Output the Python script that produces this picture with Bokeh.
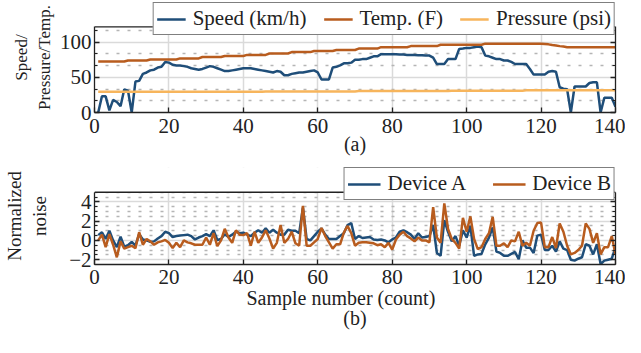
from bokeh.plotting import figure
from bokeh.layouts import column
from bokeh.models import (Legend, LegendItem, LinearAxis, Range1d, FixedTicker,
                          CustomJSTickFormatter, Title, BoxAnnotation, Span)
from bokeh.embed import file_html
from bokeh.resources import INLINE

FONT = "Liberation Serif"
FS = "21px"
TXT = "#222222"

samples = list(range(1, 141))

speed = [0, 23, 23, 3, 18, 15, 9, 33, 31, 0,
         44, 45, 55, 57, 60, 61, 64, 65, 72, 71,
         68, 67, 67, 66, 65, 63, 62, 61, 62, 64,
         66, 65, 63, 61, 59, 59, 60, 61, 62, 63,
         63, 63, 62, 61, 60, 59, 58, 57, 59, 58,
         53, 53, 55, 56, 57, 57, 58, 59, 60, 57,
         47, 47, 47, 64, 65, 67, 70, 70, 71, 75,
         75, 76, 76, 78, 80, 80, 83, 83, 83, 83,
         83, 82.5, 82.5, 82, 82, 82, 81.5, 81.5, 81, 81,
         78, 69, 69, 69, 76, 76, 76, 90.5, 91, 92,
         92, 93, 94, 93, 81, 80, 78, 76, 76, 74,
         74, 72, 69, 69, 69, 69, 62, 54, 54, 54,
         54, 58, 59, 58, 36, 34, 33, 0, 37, 37,
         37, 37, 42, 43, 43, 0, 21, 21, 21, 8]

temp = [72.5, 72.5, 72.5, 72.5, 72.5, 72.5, 72.5, 72.5, 74, 74,
        74, 74, 74, 74, 75.5, 75.5, 75.5, 75.5, 75.5, 75.5,
        75.5, 75.5, 77, 77, 77, 77, 77, 77, 79, 79,
        79, 79, 79, 79, 80.5, 80.5, 80.5, 80.5, 80.5, 80.5,
        82, 82, 82, 82, 82, 82, 84, 84, 84, 84,
        84, 84, 86, 86, 86, 86, 86, 86, 87.5, 87.5,
        87.5, 87.5, 87.5, 87.5, 89, 89, 89, 89, 89, 89,
        91, 91, 91, 91, 91, 91, 93, 93, 93, 93,
        93, 93, 93, 93, 94.5, 94.5, 94.5, 94.5, 94.5, 94.5,
        94.5, 94.5, 96.5, 96.5, 96.5, 96.5, 96.5, 96.5, 96.5, 96.5,
        96.5, 96.5, 96.5, 96.5, 98, 98, 98, 98, 98, 98,
        98, 98, 98, 98, 98, 98, 98, 98, 98, 98,
        97.5, 97, 96, 95.5, 94.5, 94, 93, 93, 93, 93,
        93, 93, 93, 93, 93, 93, 93, 93, 93, 93]

pressure = [29.5, 29.5, 29.5, 29.5, 29.5, 29.5, 29.5, 29.5, 29.5, 29.5,
            29.5, 29.5, 29.5, 29.5, 29.5, 29.5, 29.5, 29.5, 29.5, 29.5,
            29.5, 29.5, 29.5, 29.5, 29.5, 29.5, 29.5, 29.5, 29.5, 29.5,
            29.5, 29.5, 29.5, 29.5, 29.5, 29.5, 29.5, 29.5, 29.5, 29.5,
            29.5, 29.5, 29.5, 29.5, 29.5, 30, 30, 30, 30, 30,
            30, 30, 30, 30, 30, 30, 30, 30, 30, 30,
            30, 30, 30, 30, 30, 30, 30, 30, 30, 30,
            30.5, 30.5, 30.5, 30.5, 30.5, 30.5, 30.5, 30.5, 30.5, 30.5,
            30.5, 30.5, 30.5, 30.5, 30.5, 30.5, 30.5, 30.5, 30.5, 30.5,
            30.5, 30.5, 30.5, 30.5, 30.5, 31, 31, 31, 31, 31,
            31, 31, 31, 31, 31, 31, 31, 31, 31, 31,
            31, 31, 31, 31, 31, 31.5, 31.5, 31.5, 31.5, 31.5,
            31.5, 31.5, 31.5, 31.5, 31.5, 31.5, 31.5, 31.5, 31.5, 31.5,
            31.5, 31.5, 31.5, 31.5, 31.5, 31.5, 31.5, 31.5, 31.5, 31.5]

dev_a = [0.55, 0.85, 0.15, 1.0, 0.0, -0.7, 0.4, -0.65, -0.5, -0.15,
         -0.55, 0.65, 0.1, 0.0, -0.15, -0.1, 0.2, 0.45, 0.9, 0.75,
         0.35, 0.45, 0.5, 0.55, 0.6, 0.45, 0.1, 0.3, 0.45, 0.65,
         0.45, 1.05, 0.05, 0.15, 0.65, 0.35, 0.6, 0.9, 0.75, 0.8,
         0.6, 0.45, 0.8, 1.05, 0.8, 1.25, 0.8, 1.1, 0.8, 0.6,
         0.6, 1.1, 1.0, 1.0, 0.75, 3.4, 0.15, 0.0, 0.45, 0.9,
         1.25, 0.6, 0.15, 0.15, 0.15, 0.45, 0.75, 1.6, 1.8, 0.15,
         0.45, 0.25, 0.3, 0.35, 0.1, 0.05, 0.1, 0.0, -0.2, 0.1,
         0.3, 0.9, 1.05, 0.85, 0.6, 0.15, 0.75, 0.3, 0.35, 0.45,
         1.6, -1.3, -1.6, 2.1, 0.9, -0.1, 0.45, -0.55, 1.05, 0.3,
         1.5, -1.6, -1.45, -1.4, -0.4, 0.3, 1.35, -1.15, -1.3, -1.6,
         -1.6, -1.4, -1.2, -1.95, 0.0, -0.75, -0.75, -1.3, 0.5, 0.6,
         -1.0, -1.0, -0.55, -1.15, -0.1, -0.85, -1.0, -2.0, -2.1, -1.9,
         -1.75, -0.4, -0.55, -1.45, -0.4, -2.45, -2.1, -2.0, -1.9, -0.7]

dev_b = [0.0, 0.6, -0.7, 0.65, -0.45, -1.75, -0.1, -0.85, -0.7, -0.55,
         -0.8, 0.85, -0.45, 0.15, -0.1, -0.45, -0.2, -0.1, 0.05, -0.25,
         -0.8, -0.25, -0.7, 0.0, -0.2, -0.3, -0.45, -0.45, -0.45, 0.3,
         -0.45, 0.75, -0.6, 0.0, 1.2, 0.3, -0.25, 1.05, 0.6, 0.55,
         0.75, -0.55, 0.9, -0.25, 0.3, 1.05, 0.2, -0.85, -0.25, 1.6,
         -0.25, 0.15, 0.9, -0.3, -0.55, 3.6, -0.55, -0.55, -0.2, 0.15,
         1.3, 0.45, -0.2, -0.85, -0.4, -0.4, 0.8, 1.5, 0.75, -0.55,
         -0.25, -0.2, -0.2, -0.25, -0.3, -0.5, -0.4, -0.7, -0.25, -0.95,
         0.1, 0.6, 0.9, 0.45, 0.2, -0.1, 0.3, 0.0, 0.0, -0.2,
         3.45, 0.3, -0.25, 3.85, 1.2, 0.15, -0.25, -0.85, 2.35, 0.9,
         2.5, 0.15, -0.9, -0.7, 0.15, 0.75, 2.45, -0.55, -0.55, -0.3,
         -0.7, 0.0, -0.1, 0.9, -0.55, -0.25, -0.55, 1.0, 1.8, 1.85,
         -0.7, -0.7, 0.35, -0.8, 1.75, 0.9, -0.55, -1.45, -1.3, -1.0,
         -0.55, 1.75, 1.2, -0.25, 0.75, -1.45, -0.7, -0.7, 0.45, -1.5]

x_ticks = [0, 20, 40, 60, 80, 100, 120, 140]
top_y_ticks = [0, 50, 100]
top_y_minor = [16.67, 33.33, 66.67, 83.33, 116.67]
top_y_limits = (0, 122)
bot_y_ticks = [-2, 0, 2, 4]
bot_y_minor = [-2.5, -1.5, -1, -0.5, 0.5, 1, 1.5, 2.5, 3, 3.5, 4.5, 5]
bot_y_limits = (-2.5, 5)

BLUE = "#1f4e79"
BROWN = "#b85c1e"
LIGHT = "#f7b55c"
LW = 2.5


def style_axis(ax, minor=0):
    ax.axis_line_color = TXT
    ax.axis_line_width = 1.3
    ax.major_tick_line_color = TXT
    ax.major_tick_line_width = 1.3
    ax.major_tick_in = 5
    ax.major_tick_out = 0
    ax.minor_tick_line_color = TXT
    ax.minor_tick_in = minor
    ax.minor_tick_out = 0
    ax.major_label_text_font = FONT
    ax.major_label_text_font_size = FS
    ax.major_label_text_color = TXT
    ax.axis_label_text_font = FONT
    ax.axis_label_text_font_size = "20px"
    ax.axis_label_text_font_style = "normal"
    ax.axis_label_text_color = TXT


def make_fig(height, limits, view_top, yt, ymin, top, bottom, ylabel,
             ylabel_size, ylabel_standoff):
    p = figure(width=625, height=height, x_range=Range1d(0, 140),
               y_range=Range1d(limits[0], view_top),
               output_backend="svg", toolbar_location=None,
               min_border_left=82, min_border_right=10,
               min_border_top=top, min_border_bottom=bottom)
    xt = FixedTicker(ticks=x_ticks, minor_ticks=[])
    ytk = FixedTicker(ticks=yt, minor_ticks=ymin)
    p.xaxis.ticker = xt
    p.yaxis.ticker = ytk
    p.xgrid.ticker = xt
    p.ygrid.ticker = ytk
    style_axis(p.xaxis[0])
    style_axis(p.yaxis[0], minor=3)
    p.yaxis.bounds = limits
    p.yaxis.major_label_standoff = 3
    p.yaxis.axis_label = ylabel
    p.yaxis.axis_label_text_font_size = ylabel_size
    p.yaxis.axis_label_standoff = ylabel_standoff
    blank = CustomJSTickFormatter(code="return ''")
    ax_r = LinearAxis(ticker=ytk, formatter=blank, major_label_standoff=0,
                      bounds=limits)
    style_axis(ax_r, minor=3)
    ax_r.major_label_text_font_size = "0px"
    p.add_layout(ax_r, "right")
    p.xgrid.grid_line_color = "#dadada"
    p.xgrid.grid_line_width = 1.5
    p.ygrid.grid_line_color = "#dadada"
    p.ygrid.grid_line_width = 1.5
    p.ygrid.minor_grid_line_color = "#b5b5b5"
    p.ygrid.minor_grid_line_width = 1.5
    p.ygrid.minor_grid_line_dash = "3 8"
    p.outline_line_color = None
    return p


def finish(p, limits, items, glyph_w, spacing):
    # blank the strip above the axes box, then close the box with its top edge
    p.add_layout(BoxAnnotation(bottom=limits[1], fill_color="white", fill_alpha=1.0,
                               line_alpha=0))
    p.add_layout(Span(location=limits[1], dimension="width", line_color=TXT,
                      line_width=1.3))
    lg = Legend(items=items, location="top_right", orientation="horizontal")
    lg.border_line_color = "black"
    lg.border_line_width = 1.3
    lg.background_fill_alpha = 1.0
    lg.label_text_font = FONT
    lg.label_text_font_size = FS
    lg.label_text_color = TXT
    lg.glyph_width = glyph_w
    lg.label_standoff = 7
    lg.spacing = spacing
    lg.padding = 3
    lg.margin = 0
    p.add_layout(lg)


# ---- top panel
p1 = make_fig(167, top_y_limits, 156.6, top_y_ticks, top_y_minor, 2, 55,
              "Speed/\nPressure/Temp.", "17px", 3)
p1.below[0].major_label_standoff = 6
p1.below[0].axis_label = "(a)"
p1.below[0].axis_label_standoff = -3
r_speed = p1.line(samples, speed, line_color=BLUE, line_width=LW)
r_temp = p1.line(samples, temp, line_color=BROWN, line_width=LW)
r_pres = p1.line(samples, pressure, line_color=LIGHT, line_width=LW)
finish(p1, top_y_limits,
       [LegendItem(label="Speed (km/h)", renderers=[r_speed]),
        LegendItem(label="Temp. (F)", renderers=[r_temp]),
        LegendItem(label="Pressure (psi)", renderers=[r_pres])], 29, 17)

# ---- bottom panel
p2 = make_fig(170, bot_y_limits, 7.57, bot_y_ticks, bot_y_minor, 0, 73,
              "Normalized\nnoise", "19px", 16)
p2.below[0].major_label_standoff = 5
r_a = p2.line(samples, dev_a, line_color=BLUE, line_width=LW)
r_b = p2.line(samples, dev_b, line_color=BROWN, line_width=LW)
finish(p2, bot_y_limits,
       [LegendItem(label="Device A", renderers=[r_a]),
        LegendItem(label="Device B", renderers=[r_b])], 33, 26)
t1 = Title(text="Sample number (count)", align="left", offset=152,
           text_font=FONT, text_font_size="20px", text_font_style="normal",
           text_color=TXT, standoff=-3)
p2.add_layout(t1, "below")
t2 = Title(text="(b)", align="center",
           text_font=FONT, text_font_size="20px", text_font_style="normal",
           text_color=TXT, standoff=-6)
p2.add_layout(t2, "below")

layout = column(p1, p2, spacing=0)
open("out.html", "w").write(file_html(layout, INLINE))
